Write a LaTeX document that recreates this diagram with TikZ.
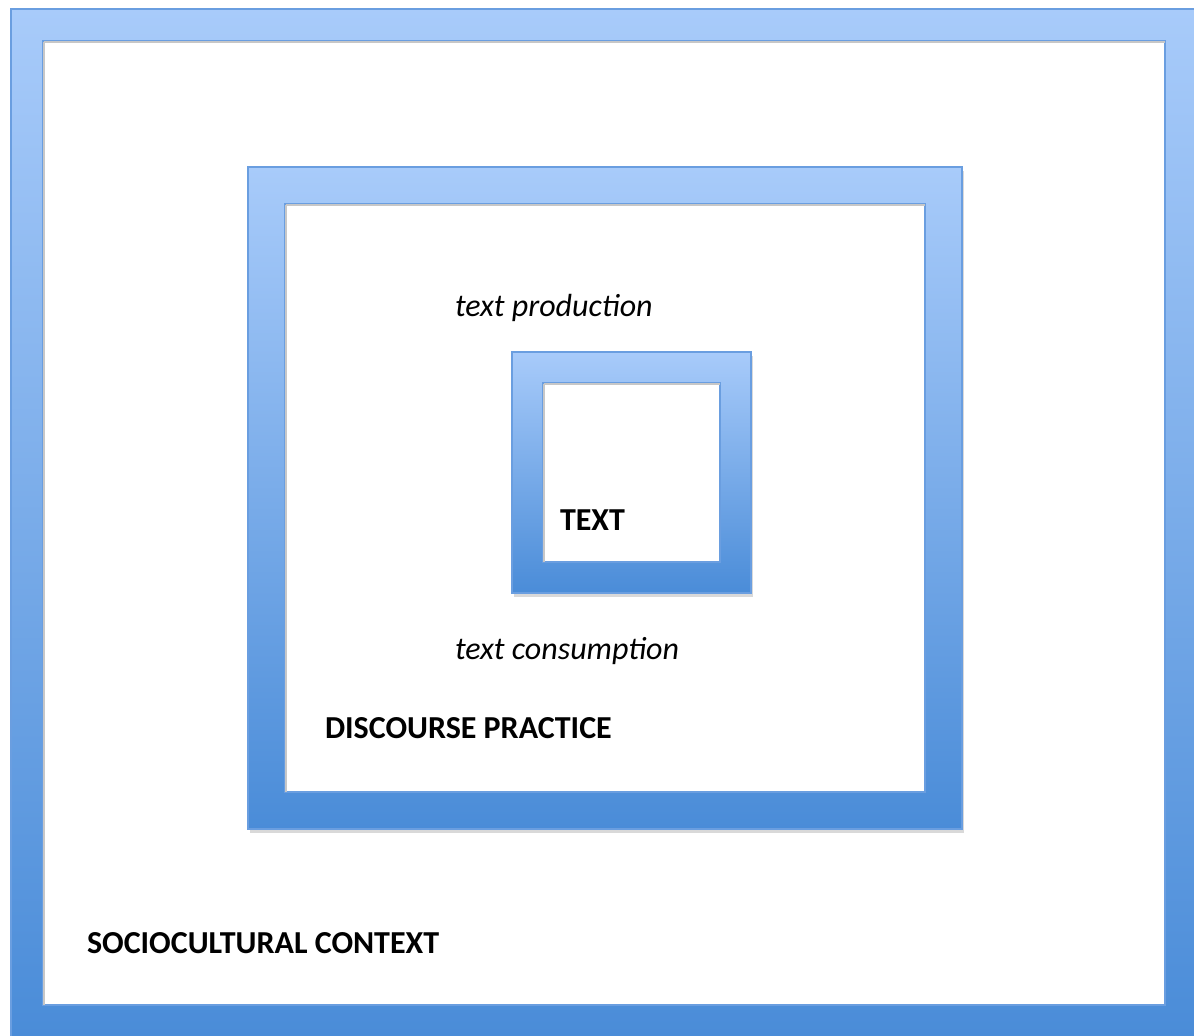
\documentclass[tikz,border=0pt]{standalone}
\usepackage{fontspec}
\setmainfont{Carlito}
\usetikzlibrary{calc}
\definecolor{frametop}{HTML}{A8CBFA}
\definecolor{framebot}{HTML}{4A8CD8}
\definecolor{frameedge}{HTML}{6A9EE0}
\tikzset{
  x=1pt, y=-1pt,
  lbl/.style={inner sep=0pt, outer sep=0pt, anchor=base west},
  caps/.style={lbl, font=\fontsize{32}{36}\selectfont\bfseries},
  talk/.style={lbl, font=\fontsize{32}{36}\selectfont\itshape},
  band/.style={top color=frametop, bottom color=framebot, even odd rule, draw=frameedge, line width=1.2pt},
  sunk/.style={draw=black!22, line width=2pt}
}
% outer x1,y1,x2,y2 and band width
\newcommand{\FramePair}[5]{%
  \fill[black!15] ($(#1,#2)+(2,4)$) rectangle ($(#3,#4)+(2,4)$);
  \fill[white] ($(#1,#2)+(#5,#5)$) rectangle ($(#3,#4)-(#5,#5)$);
  \path[band] (#1,#2) rectangle (#3,#4)
    ($(#1,#2)+(#5,#5)$) rectangle ($(#3,#4)-(#5,#5)$);
  \draw[sunk] ($(#1,#2)+(#5,#5)+(1,1)$) -- ($(#3,#2)+(-#5,#5)+(0,1)$);
  \draw[sunk] ($(#1,#2)+(#5,#5)+(1,1)$) -- ($(#1,#4)+(#5,-#5)+(1,0)$);
}
\begin{document}
\begin{tikzpicture}
  \useasboundingbox[fill=white] (0,0) rectangle (1194,1036);

  \begin{scope}
    \clip (0,0) rectangle (1194,1036);
    \FramePair{11}{9}{1197}{1037}{32}
  \end{scope}
  \FramePair{248}{167}{962}{829}{37}
  \FramePair{512}{352}{751}{593}{31}

  \node[talk] (prod) at (455,316) {text production};
  \node[caps] (txt) at (560,530) {TEXT};
  \node[talk] (cons) at (455,659) {text consumption};
  \node[caps] (disc) at (325,738) {DISCOURSE PRACTICE};
  \node[caps] (socio) at (87,953) {SOCIOCULTURAL CONTEXT};
\end{tikzpicture}
\end{document}
